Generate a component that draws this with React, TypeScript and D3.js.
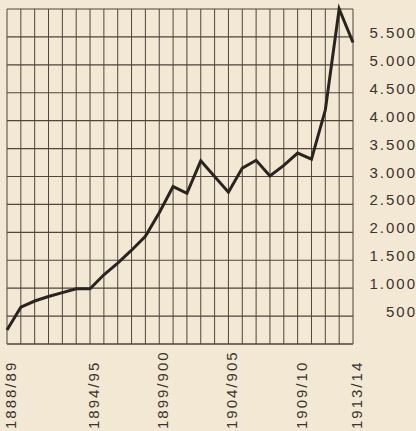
import * as d3 from 'd3'
import React from 'react'

// season index 0 = 1888/89 ... 25 = 1913/14
const seasons = d3.range(1888, 1914).map(y => `${y}/${String((y + 1) % 100).padStart(2, '0')}`)
const values = [250, 660, 770, 850, 920, 990, 990, 1240, 1450, 1680, 1930, 2350, 2820, 2700, 3280, 3000,
    2720, 3150, 3290, 3010, 3200, 3420, 3310, 4190, 6000, 5400]
const xTickLabels = ['1888/89', '1894/95', '1899/900', '1904/905', '1909/10', '1913/14']
const xTickIndex = [0, 6, 11, 16, 21, 25]
const yTicks = [500, 1000, 1500, 2000, 2500, 3000, 3500, 4000, 4500, 5000, 5500]
const yGrid = d3.range(0, 6001, 500)

const W = 416, H = 431
const left = 7, right = 353, top = 9, bottom = 344

export default function App() {
    const x = d3.scaleLinear().domain([0, seasons.length - 1]).range([left, right])
    const y = d3.scaleLinear().domain([0, 6000]).range([bottom, top])

    const line = d3.line<number>()
        .x((d, i) => x(i))
        .y(d => y(d))

    const gridColor = '#4f453c'
    const font = '"Liberation Sans", Arial, sans-serif'

    return (
        <svg width={W} height={H} style={{ position: 'absolute', left: 0, top: 0, background: '#f2e8d3' }}>
            <rect width={W} height={H} fill="#f2e8d3" />
            {/* vertical grid, one per season */}
            {seasons.map((s, i) => (
                <line key={'v' + s} x1={x(i)} x2={x(i)} y1={top} y2={bottom}
                    stroke={gridColor} strokeWidth={1} />
            ))}
            {/* horizontal grid every 500 */}
            {yGrid.map(v => (
                <line key={'h' + v} x1={left} x2={right} y1={y(v)} y2={y(v)}
                    stroke={gridColor} strokeWidth={v === 0 ? 1.6 : 1.1} />
            ))}
            <path d={line(values) || ''} fill="none" stroke="#2a2420" strokeWidth={3}
                strokeLinejoin="miter" />
            {yTicks.map(v => (
                <text key={'yl' + v} x={417} y={y(v) + 1} textAnchor="end"
                    fontFamily={font} fontSize={15} letterSpacing={2} fill="#3b3430">
                    {d3.format(',')(v).replace(',', '.')}
                </text>
            ))}
            {xTickLabels.map((t, k) => (
                <text key={'xl' + t}
                    transform={`translate(${x(xTickIndex[k]) + 9},${429}) rotate(-90)`}
                    fontFamily={font} fontSize={15} letterSpacing={2} fill="#3b3430">
                    {t}
                </text>
            ))}
        </svg>
    )
}
